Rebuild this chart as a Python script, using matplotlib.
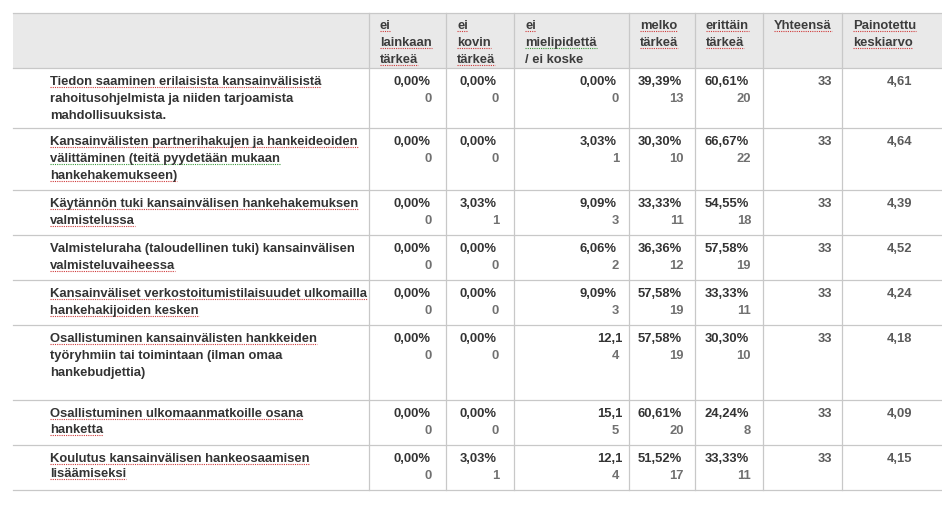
import matplotlib.pyplot as plt
from matplotlib.patches import Rectangle

# --- data -------------------------------------------------------------
headers = ["ei\nlainkaan\ntärkeä", "ei\nkovin\ntärkeä", "ei\nmielipidettä\n/ ei koske",
           "melko\ntärkeä", "erittäin\ntärkeä", "Yhteensä", "Painotettu\nkeskiarvo"]

labels = [
    "Tiedon saaminen erilaisista kansainvälisistä\nrahoitusohjelmista ja niiden tarjoamista\nmahdollisuuksista.",
    "Kansainvälisten partnerihakujen ja hankeideoiden\nvälittäminen (teitä pyydetään mukaan\nhankehakemukseen)",
    "Käytännön tuki kansainvälisen hankehakemuksen\nvalmistelussa",
    "Valmisteluraha (taloudellinen tuki) kansainvälisen\nvalmisteluvaiheessa",
    "Kansainväliset verkostoitumistilaisuudet ulkomailla\nhankehakijoiden kesken",
    "Osallistuminen kansainvälisten hankkeiden\ntyöryhmiin tai toimintaan (ilman omaa\nhankebudjettia)",
    "Osallistuminen ulkomaanmatkoille osana\nhanketta",
    "Koulutus kansainvälisen hankeosaamisen\nlisäämiseksi",
]

ei_lainkaan = [0.00, 0.00, 0.00, 0.00, 0.00, 0.00, 0.00, 0.00]
ei_lainkaan_n = [0, 0, 0, 0, 0, 0, 0, 0]
ei_kovin = [0.00, 0.00, 3.03, 0.00, 0.00, 0.00, 0.00, 3.03]
ei_kovin_n = [0, 0, 1, 0, 0, 0, 0, 1]
ei_mielipidetta = [0.00, 3.03, 9.09, 6.06, 9.09, 12.12, 15.15, 12.12]
ei_mielipidetta_n = [0, 1, 3, 2, 3, 4, 5, 4]
melko = [39.39, 30.30, 33.33, 36.36, 57.58, 57.58, 60.61, 51.52]
melko_n = [13, 10, 11, 12, 19, 19, 20, 17]
erittain = [60.61, 66.67, 54.55, 57.58, 33.33, 30.30, 24.24, 33.33]
erittain_n = [20, 22, 18, 19, 11, 10, 8, 11]
yhteensa = [33, 33, 33, 33, 33, 33, 33, 33]
keskiarvo = [4.61, 4.64, 4.39, 4.52, 4.24, 4.18, 4.09, 4.15]

# cells whose percentage is cut off in the original view (row, col)
clipped = {(5, 2), (6, 2), (7, 2)}

# spell-check squiggles seen in the screenshot: r = red, g = green, None = none
label_marks = [["r", None, None], ["r", "g", "r"], ["r", "r"], [None, "r"],
               ["r", "r"], ["r", None, None], ["r", "r"], ["r", "r"]]
header_marks = [["r", "r", "r"], ["r", "r", "r"], ["r", "g", None],
                ["r", "r"], ["r", "r"], ["r"], ["r", "r"]]

# --- layout (pixels) --------------------------------------------------
W, H = 942, 520
col_x = [13, 369, 446, 514, 629, 695, 763, 842, 942]
row_y = [13, 68, 128, 190, 235, 280, 325, 400, 445, 490]
label_line_gap = [17, 17, 17, 17, 17, 17, 16, 15]

line_c = "#c8c8c8"
head_bg = "#e9e9e9"
dark = "#333333"
mid = "#5a5a5a"
light = "#707070"
mark_c = {"r": "#d03a3a", "g": "#3a9a3a"}
fs = 9.4
font = "Liberation Sans"

fig = plt.figure(figsize=(W / 100, H / 100), dpi=100)
ax = fig.add_axes([0, 0, 1, 1])
ax.set_xlim(0, W)
ax.set_ylim(H, 0)
ax.axis("off")
renderer = fig.canvas.get_renderer()


def squiggle(t, c):
    if c is None:
        return
    bb = t.get_window_extent(renderer=renderer)
    y = H - bb.y0 - 1
    ax.plot([bb.x0, bb.x1], [y, y], color=mark_c[c], lw=0.8, ls=(0, (1, 1)))


# header band
ax.add_patch(Rectangle((col_x[0], row_y[0]), col_x[-1] - col_x[0], row_y[1] - row_y[0],
                       facecolor=head_bg, edgecolor="none"))

# horizontal lines
for y in row_y:
    ax.plot([col_x[0], col_x[-1]], [y, y], color=line_c, lw=0.9)
# vertical lines
for x in col_x[1:-1]:
    ax.plot([x, x], [row_y[0], row_y[-1]], color=line_c, lw=0.9)

# header text
for j, h in enumerate(headers):
    for k, line in enumerate(h.split("\n")):
        t = ax.text(col_x[j + 1] + 11, row_y[0] + 13 + k * 17, line, ha="left", va="center",
                    fontsize=fs, family=font, color="#3c3c3c", fontweight="bold")
        squiggle(t, header_marks[j][k])

pct_cols = [(ei_lainkaan, ei_lainkaan_n), (ei_kovin, ei_kovin_n),
            (ei_mielipidetta, ei_mielipidetta_n), (melko, melko_n), (erittain, erittain_n)]
pct_pad = [16, 17, 12, 13, 14]


def fmt(v, nd=2):
    return f"{v:.{nd}f}".replace(".", ",")


for i, lab in enumerate(labels):
    top = row_y[i + 1]
    for k, line in enumerate(lab.split("\n")):
        t = ax.text(50, top + 14 + k * label_line_gap[i], line, ha="left", va="center",
                    fontsize=fs, family=font, color=dark, fontweight="bold")
        squiggle(t, label_marks[i][k])
    for j, (vals, ns) in enumerate(pct_cols):
        s = fmt(vals[i]) + "%"
        xr = col_x[j + 2] - pct_pad[j]
        if (i, j) in clipped:
            s = s[:4]
            xr = col_x[j + 2] - 7
        ax.text(xr, top + 14, s, ha="right", va="center", fontsize=fs,
                family=font, color=dark, fontweight="bold")
        ax.text(col_x[j + 2] - pct_pad[j] + 2, top + 31, str(ns[i]), ha="right",
                va="center", fontsize=fs, family=font, color=light, fontweight="bold")
    ax.text(col_x[7] - 10, top + 14, str(yhteensa[i]), ha="right", va="center",
            fontsize=fs, family=font, color=mid, fontweight="bold")
    ax.text(col_x[8] - 30, top + 14, fmt(keskiarvo[i]), ha="right", va="center",
            fontsize=fs, family=font, color=mid, fontweight="bold")

fig.savefig("out.png", dpi=100, facecolor="white")
